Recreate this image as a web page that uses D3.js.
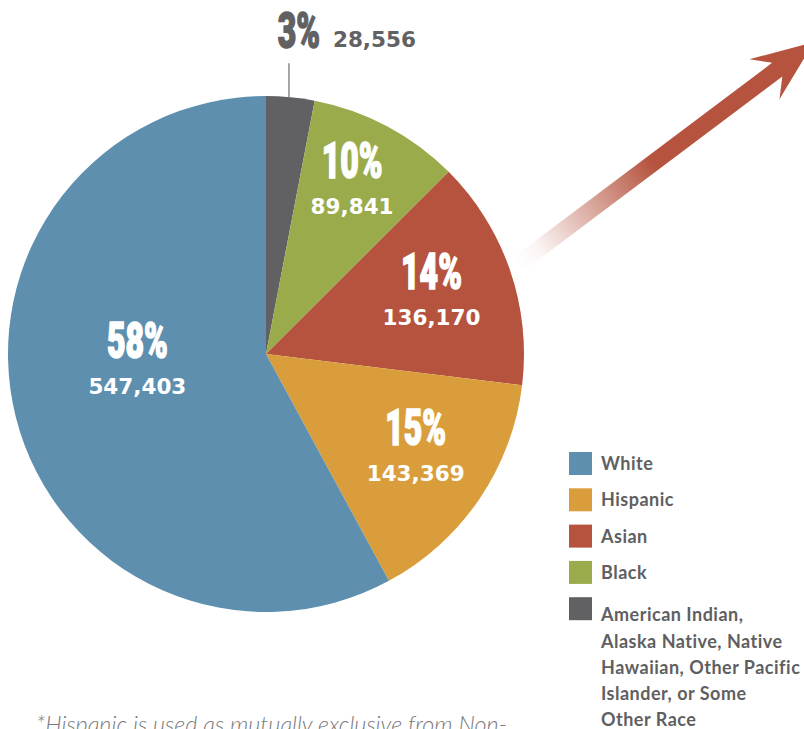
<!DOCTYPE html>
<html>
<head>
<meta charset="utf-8">
<script src="https://cdn.jsdelivr.net/npm/d3@7"></script>
<style>
  html, body { margin: 0; padding: 0; background: #ffffff; }
  svg { display: block; }
</style>
</head>
<body>
<div id="chart_div"></div>
<script>
var chart_width = 804;
var chart_height = 729;

// data, clockwise from 12 o'clock
var groups = ["Other", "Black", "Asian", "Hispanic", "White"];
var counts = [28556, 89841, 136170, 143369, 547403];
var pct_labels = ["3%", "10%", "14%", "15%", "58%"];
var count_labels = ["28,556", "89,841", "136,170", "143,369", "547,403"];
var slice_colours = ["#616163", "#9aab4b", "#b5533e", "#d99e3b", "#5e8fae"];

var legend_order = ["White", "Hispanic", "Asian", "Black", "Other"];
var legend_lines = {
    "White": ["White"],
    "Hispanic": ["Hispanic"],
    "Asian": ["Asian"],
    "Black": ["Black"],
    "Other": ["American Indian,", "Alaska Native, Native", "Hawaiian, Other Pacific", "Islander, or Some", "Other Race"]
};
var footnote = "*Hispanic is used as mutually exclusive from Non-";

var text_grey = "#5f5f61";
var pie_cx = 266;
var pie_cy = 354;
var pie_r = 258;
var label_r = 175;
// nudges so labels sit where the original put them
var label_nudge = [[0, 0], [4, -21], [0, -8], [5, -7], [41, -39]];

var svg = d3.select("#chart_div")
    .append("svg")
    .attr("width", chart_width)
    .attr("height", chart_height);

var defs = svg.append("defs");
var grad = defs.append("linearGradient")
    .attr("id", "arrow_fade")
    .attr("gradientUnits", "userSpaceOnUse")
    .attr("x1", 518).attr("y1", 265)
    .attr("x2", 652).attr("y2", 162);
grad.append("stop").attr("offset", "0").attr("stop-color", "#b5533e").attr("stop-opacity", 0);
grad.append("stop").attr("offset", "0.15").attr("stop-color", "#b5533e").attr("stop-opacity", 0.05);
grad.append("stop").attr("offset", "1").attr("stop-color", "#b5533e").attr("stop-opacity", 1);

// arrow
function arrow_path(sx, sy, tx, ty, half_w, head_len, notch_len, head_w) {
    var len = Math.hypot(tx - sx, ty - sy);
    var ux = (tx - sx) / len, uy = (ty - sy) / len;
    var nx = -uy, ny = ux;
    function p(along, side) {
        return [sx + ux * along + nx * side, sy + uy * along + ny * side];
    }
    var pts = [
        p(0, half_w),
        p(len - notch_len, half_w),
        p(len - head_len, head_w),
        p(len, 0),
        p(len - head_len, -head_w),
        p(len - notch_len, -half_w),
        p(0, -half_w)
    ];
    return d3.line()(pts) + "Z";
}
svg.append("path")
    .attr("d", arrow_path(516, 266, 814, 42, 8.5, 62, 46, 25))
    .attr("fill", "url(#arrow_fade)");

// pie
var pie = d3.pie().sort(null).value(function(d) { return d; });
var arcs = pie(counts);
var arc = d3.arc().innerRadius(0).outerRadius(pie_r);
var label_arc = d3.arc().innerRadius(label_r).outerRadius(label_r);

var pie_g = svg.append("g")
    .attr("transform", "translate(" + pie_cx + "," + pie_cy + ")");

pie_g.selectAll("path")
    .data(arcs)
    .enter()
    .append("path")
    .attr("d", arc)
    .attr("fill", function(d, i) { return slice_colours[i]; });

function pct_text(g, x, y, txt, colour, anchor) {
    g.append("text")
        .attr("transform", "translate(" + x + "," + y + ") scale(0.64,1)")
        .attr("text-anchor", anchor)
        .attr("font-family", "Roboto, 'Liberation Sans', sans-serif")
        .attr("font-weight", 900)
        .attr("font-size", 50)
        .attr("fill", colour)
        .attr("stroke", colour)
        .attr("stroke-width", 1.6)
        .text(txt);
}
function count_text(g, x, y, txt, colour, anchor) {
    g.append("text")
        .attr("x", x)
        .attr("y", y)
        .attr("text-anchor", anchor)
        .attr("font-family", "'DejaVu Sans', sans-serif")
        .attr("font-weight", 700)
        .attr("font-size", 21.5)
        .attr("fill", colour)
        .text(txt);
}

arcs.forEach(function(d, i) {
    if (i === 0) {
        // small slice: label outside with a leader
        var mid = (d.startAngle + d.endAngle) / 2;
        var lx = Math.sin(mid) * pie_r - 1.5;
        var top_y = -Math.cos(mid) * pie_r;
        pie_g.append("line")
            .attr("x1", lx).attr("x2", lx)
            .attr("y1", top_y).attr("y2", top_y - 34)
            .attr("stroke", "#8a8a8c")
            .attr("stroke-width", 1.5);
        pct_text(pie_g, lx + 10, top_y - 49, pct_labels[i], slice_colours[i], "middle");
        count_text(pie_g, lx + 44, top_y - 50, count_labels[i], slice_colours[i], "start");
        return;
    }
    var c = label_arc.centroid(d);
    var x = c[0] + label_nudge[i][0];
    var y = c[1] + label_nudge[i][1];
    pct_text(pie_g, x, y, pct_labels[i], "#ffffff", "middle");
    count_text(pie_g, x, y + 36, count_labels[i], "#ffffff", "middle");
});

// legend
var legend_g = svg.append("g").attr("transform", "translate(569,452)");
var row_y = 0;
legend_order.forEach(function(name) {
    var idx = groups.indexOf(name);
    legend_g.append("rect")
        .attr("x", 0).attr("y", row_y)
        .attr("width", 23).attr("height", 23)
        .attr("fill", slice_colours[idx]);
    var t = legend_g.append("text")
        .attr("font-family", "Lato, sans-serif")
        .attr("font-weight", 700)
        .attr("font-size", 18)
        .attr("letter-spacing", 0.5)
        .attr("fill", text_grey);
    var lines = legend_lines[name];
    var first_y = lines.length > 1 ? row_y + 24 : row_y + 18;
    lines.forEach(function(line, k) {
        t.append("tspan")
            .attr("x", 32)
            .attr("y", first_y + k * 26.3)
            .text(line);
    });
    row_y += 36.3;
});

// footnote, cut off at the bottom like the original
svg.append("text")
    .attr("x", 36)
    .attr("y", 733)
    .attr("font-family", "Lato, sans-serif")
    .attr("font-weight", 300)
    .attr("font-style", "italic")
    .attr("font-size", 23)
    .attr("textLength", 471)
    .attr("lengthAdjust", "spacingAndGlyphs")
    .attr("fill", "#7a7a7c")
    .text(footnote);
</script>
</body>
</html>
